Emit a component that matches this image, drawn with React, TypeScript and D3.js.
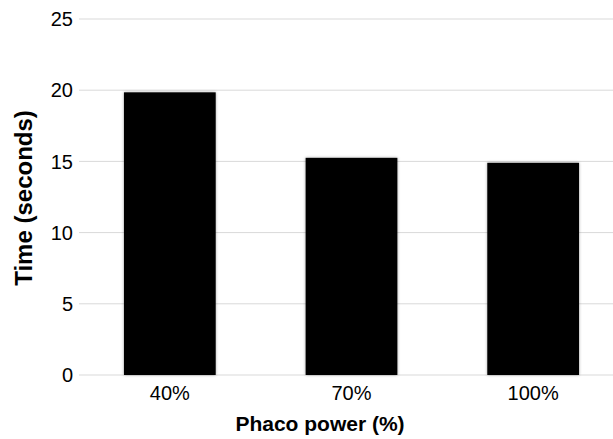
import React from "react";
import * as d3 from "d3";

const categories = ["40%", "70%", "100%"];
const values = [19.85, 15.25, 14.9];
const yTicks = [0, 5, 10, 15, 20, 25];

const W = 613;
const H = 439;
const left = 79;
const right = 624;
const top = 19;
const bottom = 375;

export default function App() {
  const x = d3.scaleBand<string>().domain(categories).range([left, right]).paddingInner(0.495).paddingOuter(0.2475);
  const y = d3.scaleLinear().domain([0, 25]).range([bottom, top]);
  const font = "Arial, 'Liberation Sans', Helvetica, sans-serif";
  return (
    <svg width={W} height={H} style={{ position: "absolute", left: 0, top: 0, display: "block" }} fontFamily={font}>
      <defs>
        <filter id="sh" x="-20%" y="-20%" width="140%" height="140%">
          <feDropShadow dx="0" dy="0" stdDeviation="1.8" floodColor="#000" floodOpacity="0.35" />
        </filter>
      </defs>
      <rect width={W} height={H} fill="#fff" />
      {yTicks.map((t) => (
        <g key={t}>
          <line x1={left} x2={W} y1={y(t)} y2={y(t)} stroke="#d9d9d9" strokeWidth={1} />
          <text x={73} y={y(t)} dy="0.36em" textAnchor="end" fontSize={20} fill="#000">
            {t}
          </text>
        </g>
      ))}
      {categories.map((c, i) => (
        <rect
          key={c}
          x={x(c)}
          y={y(values[i])}
          width={x.bandwidth()}
          height={bottom - y(values[i])}
          fill="#000"
          filter="url(#sh)"
        />
      ))}
      {categories.map((c) => (
        <text key={c} x={(x(c) as number) + x.bandwidth() / 2} y={400} textAnchor="middle" fontSize={20} fill="#000">
          {c}
        </text>
      ))}
      <text x={320} y={431} textAnchor="middle" fontSize={21} fontWeight="bold" fill="#000">
        Phaco power (%)
      </text>
      <text
        transform={`translate(32, 198) rotate(-90)`}
        textAnchor="middle"
        fontSize={24}
        fontWeight="bold"
        fill="#000"
      >
        Time (seconds)
      </text>
    </svg>
  );
}
